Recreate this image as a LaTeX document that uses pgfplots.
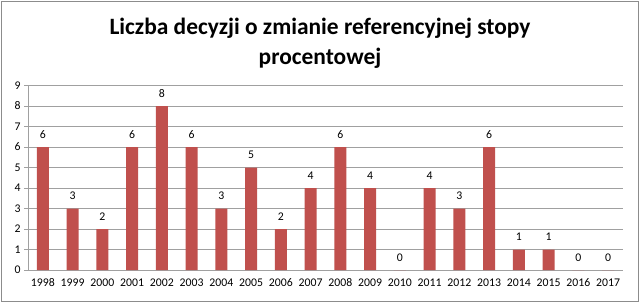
\documentclass[border=0pt]{standalone}
\usepackage{pgfplots}
\pgfplotsset{compat=1.18}
\usepackage{fontspec}
\setmainfont{Carlito}
\definecolor{barred}{HTML}{C0504D}
\definecolor{gridgray}{HTML}{A0A0A0}
\definecolor{framegray}{HTML}{8C8C8C}
\begin{document}
\begin{tikzpicture}[x=1bp,y=1bp]
\useasboundingbox (0,0) rectangle (640,305);
\draw[framegray, line width=1.2bp] (1.5,3.5) rectangle (638.5,303.5);
\node[font=\fontsize{23.5}{30}\selectfont\bfseries, align=center] at (320,261.5) {Liczba decyzji o zmianie referencyjnej stopy\\procentowej};
\begin{axis}[
  at={(28bp,35bp)}, anchor=south west,
  scale only axis, width=595bp, height=184.5bp,
  xmin=-0.5, xmax=19.5, ymin=0, ymax=9,
  ybar, bar width=12bp,
  xtick={0,...,19},
  xticklabels={1998,1999,2000,2001,2002,2003,2004,2005,2006,2007,2008,2009,2010,2011,2012,2013,2014,2015,2016,2017},
  extra x ticks={-0.5,0.5,...,19.5}, extra x tick labels={},
  extra x tick style={major tick length=4bp, tick style={gridgray, line width=0.8bp}, grid=none},
  major x tick style={draw=none},
  ytick={0,...,9},
  ymajorgrids, grid style={gridgray, line width=0.8bp},
  axis line style={gridgray, line width=0.8bp},
  axis x line*=bottom, axis y line*=left,
  y tick style={gridgray, line width=0.8bp},
  tick align=outside, major tick length=4bp,
  ticklabel style={font=\fontsize{11.8}{14}\selectfont},
  /pgf/number format/assume math mode=true,
  xticklabel style={yshift=-1bp},
  yticklabel style={xshift=0bp},
  nodes near coords,
  nodes near coords style={font=\fontsize{11.8}{14}\selectfont, black, yshift=5bp},
  point meta=y,
]
\addplot[fill=barred, draw=none] coordinates {
(0,6) (1,3) (2,2) (3,6) (4,8) (5,6) (6,3) (7,5) (8,2) (9,4)
(10,6) (11,4) (12,0) (13,4) (14,3) (15,6) (16,1) (17,1) (18,0) (19,0)};
\end{axis}
\end{tikzpicture}
\end{document}
